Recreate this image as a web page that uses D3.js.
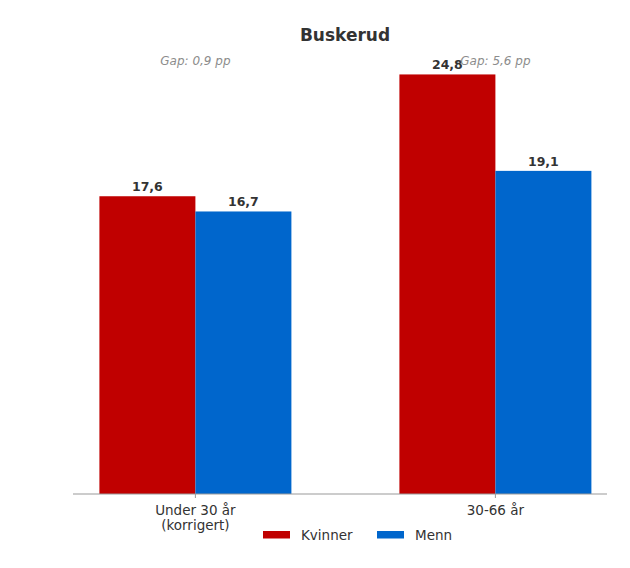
<!DOCTYPE html>
<html>
<head>
<meta charset="utf-8">
<script src="https://cdn.jsdelivr.net/npm/d3@7.9.0/dist/d3.min.js"></script>
<style>
  body { margin: 0; background: #fff; }
  svg { font-family: "DejaVu Sans", sans-serif; }
</style>
</head>
<body>
<svg id="chart" width="630" height="568"></svg>
<script>
const title = 'Buskerud';
const categories = ['Under 30 år\n(korrigert)', '30-66 år'];
const kvinner = [17.6, 24.8];
const menn = [16.7, 19.1];
const gaps = ['Gap: 0,9 pp', 'Gap: 5,6 pp'];
const seriesNames = ['Kvinner', 'Menn'];
const colors = ['#c00000', '#0066cc'];

const fmt = v => d3.format('.1f')(v).replace('.', ',');

const svg = d3.select('#chart');
const margin = { top: 20, right: 23, bottom: 74, left: 73 };
const W = 630, H = 568;

// category index -> pixel, bars are 0.32 wide on each side of the tick
let x = d3.scaleLinear().domain([-0.408, 1.372]).range([margin.left, W - margin.right]);
let y = d3.scaleLinear().domain([0, 29.2]).range([H - margin.bottom, 0]);
const barW = 0.32;

let series = [kvinner, menn];
let bars = [];
series.forEach((vals, s) => {
  vals.forEach((v, i) => bars.push({ s, i, v }));
});

svg.selectAll('rect.bar')
  .data(bars)
  .join('rect')
  .attr('class', 'bar')
  .attr('x', d => x(d.i + (d.s === 0 ? -barW : 0)))
  .attr('width', d => x(barW) - x(0))
  .attr('y', d => y(d.v))
  .attr('height', d => y(0) - y(d.v))
  .attr('fill', d => colors[d.s]);

// value labels
svg.selectAll('text.val')
  .data(bars)
  .join('text')
  .attr('class', 'val')
  .attr('x', d => x(d.i + (d.s === 0 ? -barW / 2 : barW / 2)))
  .attr('y', d => y(d.v) - 5)
  .attr('text-anchor', 'middle')
  .attr('font-size', 12.5)
  .attr('font-weight', 'bold')
  .attr('fill', '#333')
  .text(d => fmt(d.v));

// gap notes
svg.selectAll('text.gap')
  .data(gaps)
  .join('text')
  .attr('class', 'gap')
  .attr('x', (d, i) => x(i))
  .attr('y', 65)
  .attr('text-anchor', 'middle')
  .attr('font-size', 12)
  .attr('font-style', 'italic')
  .attr('fill', '#8c8c8c')
  .text(d => d);

// x axis
const axisG = svg.append('g').attr('transform', `translate(0,${y(0)})`);
axisG.append('line')
  .attr('x1', x.range()[0]).attr('x2', x.range()[1])
  .attr('stroke', '#999').attr('stroke-width', 1.2);
const ticks = axisG.selectAll('g.tick')
  .data(categories)
  .join('g')
  .attr('class', 'tick')
  .attr('transform', (d, i) => `translate(${x(i)},0)`);
ticks.append('line').attr('y2', 4).attr('stroke', '#999');
ticks.append('text')
  .attr('text-anchor', 'middle')
  .attr('font-size', 13.5)
  .attr('fill', '#333')
  .selectAll('tspan')
  .data(d => d.split('\n'))
  .join('tspan')
  .attr('x', 0)
  .attr('y', (d, j) => 21 + j * 15)
  .text(d => d);

// title
svg.append('text')
  .attr('x', (x.range()[0] + x.range()[1]) / 2 + 5)
  .attr('y', 41)
  .attr('text-anchor', 'middle')
  .attr('font-size', 17)
  .attr('font-weight', 'bold')
  .attr('fill', '#333')
  .text(title);

// legend
const legend = svg.append('g').attr('transform', 'translate(263,531)');
const items = legend.selectAll('g')
  .data(seriesNames)
  .join('g')
  .attr('transform', (d, i) => `translate(${i * 114},0)`);
items.append('rect')
  .attr('width', 27).attr('height', 7.5)
  .attr('fill', (d, i) => colors[i]);
items.append('text')
  .attr('x', 38).attr('y', 9)
  .attr('font-size', 13.5)
  .attr('fill', '#333')
  .text(d => d);
</script>
</body>
</html>
